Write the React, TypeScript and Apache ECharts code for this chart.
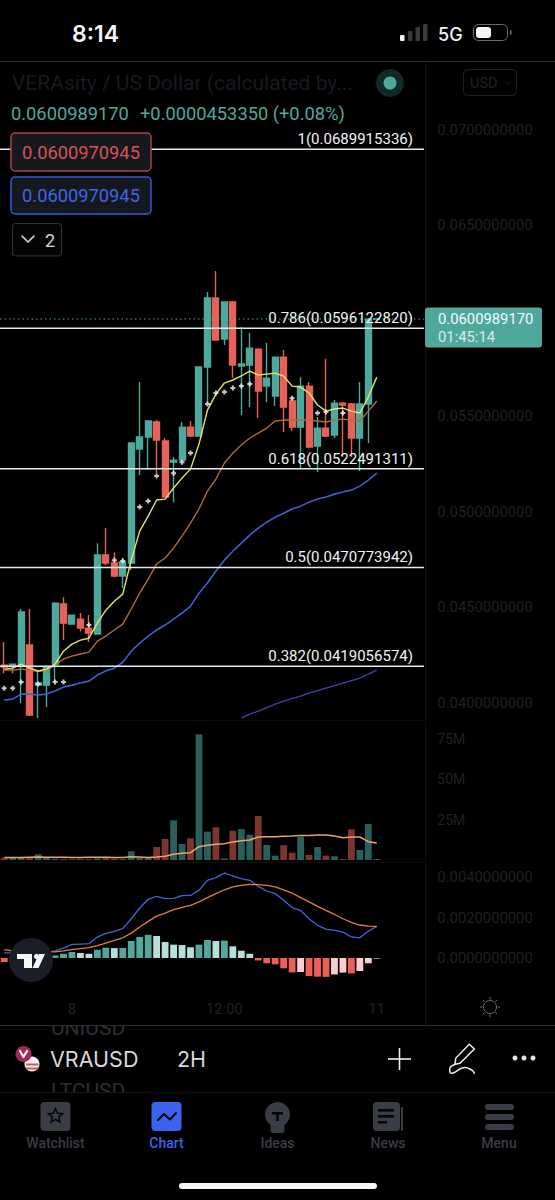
import React, { useEffect, useRef } from "react";
import * as echarts from "echarts";

const SLOTS = 50;
const tickLabels: Record<number, string> = { 8: "8", 26: "12:00", 44: "11" };
const categories = Array.from({ length: SLOTS }, (_, i) => tickLabels[i] ?? "");

// [open, close, low, high]
const candles = [
  [0.04196, 0.04186, 0.04154, 0.04317],
  [0.04191, 0.04201, 0.04154, 0.04201],
  [0.04196, 0.04474, 0.03997, 0.0449],
  [0.04301, 0.03934, 0.03929, 0.0449],
  [0.04091, 0.04102, 0.03918, 0.04159],
  [0.04091, 0.04186, 0.03976, 0.04186],
  [0.04201, 0.04521, 0.04102, 0.04526],
  [0.04516, 0.04416, 0.04327, 0.04552],
  [0.04411, 0.04458, 0.04411, 0.04458],
  [0.04437, 0.0439, 0.04374, 0.04469],
  [0.0439, 0.04364, 0.04317, 0.04458],
  [0.04359, 0.04773, 0.04359, 0.04835],
  [0.04773, 0.04731, 0.0472, 0.04914],
  [0.04731, 0.04663, 0.04657, 0.04788],
  [0.04663, 0.04736, 0.046, 0.04757],
  [0.04731, 0.0536, 0.04694, 0.0536],
  [0.05328, 0.05391, 0.05192, 0.05679],
  [0.05391, 0.05475, 0.05218, 0.05475],
  [0.0547, 0.05375, 0.05202, 0.0548],
  [0.0537, 0.05077, 0.05077, 0.05386],
  [0.0526, 0.0527, 0.0505, 0.05286],
  [0.0527, 0.05443, 0.0526, 0.0547],
  [0.05443, 0.05396, 0.05391, 0.05475],
  [0.05396, 0.05758, 0.05396, 0.05758],
  [0.05758, 0.0612, 0.05569, 0.06151],
  [0.0612, 0.05899, 0.05894, 0.06261],
  [0.05905, 0.06099, 0.05873, 0.06099],
  [0.06099, 0.05768, 0.057, 0.06104],
  [0.05763, 0.05774, 0.05506, 0.05968],
  [0.05768, 0.05857, 0.05548, 0.05936],
  [0.05852, 0.05632, 0.05491, 0.05857],
  [0.05658, 0.057, 0.05574, 0.05884],
  [0.05606, 0.0581, 0.05554, 0.0581],
  [0.0581, 0.05548, 0.05417, 0.05847],
  [0.0558, 0.05443, 0.05422, 0.05595],
  [0.05443, 0.05658, 0.05229, 0.05705],
  [0.05658, 0.05339, 0.05333, 0.05679],
  [0.05344, 0.05438, 0.05208, 0.05496],
  [0.05438, 0.05396, 0.05391, 0.058],
  [0.05402, 0.05569, 0.05386, 0.05585],
  [0.05569, 0.05559, 0.05286, 0.05574],
  [0.05564, 0.05386, 0.05286, 0.05569],
  [0.05386, 0.05564, 0.05213, 0.05679],
  [0.05564, 0.06009, 0.0536, 0.06015],
  [0.06009, 0.0601, 0.06009, 0.0601],
];

const yellowLine = [
  0.04175, 0.0418, 0.04201, 0.0418, 0.04165, 0.04175, 0.04201, 0.04269, 0.04306, 0.04327, 0.04337, 0.04416, 0.04484,
  0.04531, 0.04568, 0.04746, 0.04898, 0.04977, 0.05061, 0.05066, 0.05124, 0.05176, 0.05223, 0.05354, 0.05532, 0.05616,
  0.05674, 0.0569, 0.05711, 0.05737, 0.05716, 0.05721, 0.05726, 0.05711, 0.05658, 0.05653, 0.05622, 0.05559, 0.05527,
  0.05538, 0.05543, 0.05527, 0.05517, 0.05601, 0.05705,
];
const orangeLine = [
  0.0417, 0.0417, 0.04175, 0.0417, 0.04162, 0.0417, 0.04196, 0.04228, 0.04243, 0.04254, 0.04264, 0.04322, 0.04348,
  0.0438, 0.04411, 0.0449, 0.04573, 0.04647, 0.04726, 0.04757, 0.04809, 0.04872, 0.0494, 0.05014, 0.05108, 0.05171,
  0.05255, 0.05307, 0.05349, 0.05386, 0.05412, 0.05438, 0.05475, 0.0548, 0.0548, 0.0548, 0.0548, 0.05475, 0.0547,
  0.0548, 0.05485, 0.0548, 0.05475, 0.05527, 0.0558,
];
const blueLine = [
  0.04013, 0.04018, 0.04044, 0.04044, 0.04039, 0.04044, 0.0406, 0.04081, 0.04091, 0.04102, 0.04112, 0.04144, 0.04165,
  0.0418, 0.04211, 0.04269, 0.04311, 0.04348, 0.0438, 0.04406, 0.04437, 0.04469, 0.04505, 0.04573, 0.04626, 0.04689,
  0.04746, 0.04793, 0.04835, 0.04877, 0.04914, 0.04945, 0.04971, 0.04992, 0.05014, 0.05029, 0.0505, 0.05066, 0.05077,
  0.05092, 0.05103, 0.05113, 0.05134, 0.05165, 0.05202,
];
const n = null;
const purpleLine = [
  n, n, n, n, n, n, n, n, n, n, n, n, n, n, n, n, n, n, n, n, n, n, n, n, n, n, n, n,
  0.03918, 0.03939, 0.03955, 0.03973, 0.03992, 0.04007, 0.0402, 0.04034, 0.04049, 0.04062, 0.04076, 0.04089, 0.04102,
  0.04115, 0.04128, 0.04149, 0.0417,
];
const crossMarks = [
  [0, 0.04075], [1, 0.04075], [2, 0.04107], [4, 0.04097], [6, 0.04107], [7, 0.04107], [10, 0.04406], [13, 0.04746],
  [14, 0.04741], [16, 0.05024], [17, 0.05056], [18, 0.05187], [20, 0.05202], [21, 0.05259], [22, 0.05307],
  [24, 0.05564], [25, 0.05622], [26, 0.05627], [27, 0.05648], [28, 0.05658], [29, 0.05669], [34, 0.05595],
  [37, 0.05517], [38, 0.05522], [40, 0.05517],
];

const fibValues = [0.0689915336, 0.059612282, 0.0522491311, 0.0470773942, 0.0419056574];
const fibLabels = ["1(0.0689915336)", "0.786(0.0596122820)", "0.618(0.0522491311)", "0.5(0.0470773942)", "0.382(0.0419056574)"];
const lastPrice = 0.060098917;

const volume = [
  1.4, 1.4, 1.4, 1.9, 3.5, 1.4, 0.8, 0.6, 0.4, 0.6, 0.6, 1.0, 1.9, 0.8, 0.6, 5.4, 1.4, 1.4, 8.0, 13.0, 24.5, 9.9, 13.4,
  77.6, 17.5, 20.2, 1.0, 18.1, 19.1, 15.6, 27.2, 9.3, 2.7, 9.1, 4.5, 14.4, 3.1, 8.0, 2.7, 2.3, 0.6, 18.9, 6.2, 22.2, 0.6,
];
const volumeMA = [
  1.6, 1.6, 1.6, 1.7, 1.8, 1.7, 1.7, 1.7, 1.6, 1.6, 1.7, 1.7, 1.7, 1.6, 1.6, 2.0, 1.9, 1.6, 1.9, 2.3, 3.5, 4.1, 4.5,
  8.2, 9.1, 9.7, 10.1, 11.1, 11.9, 12.3, 14.2, 14.4, 14.4, 14.6, 14.8, 15.2, 15.2, 15.4, 15.4, 14.8, 13.8, 14.2, 14.2,
  11.3, 10.5,
];

const macdHist = [
  -0.0002, -0.00018, -0.0001, -0.00006, 0.00002, 0.00006, 0.00013, 0.00021, 0.0003, 0.00025, 0.00021, 0.00041, 0.00051,
  0.00049, 0.0005, 0.00084, 0.00104, 0.00115, 0.00109, 0.00079, 0.00066, 0.00064, 0.00053, 0.00066, 0.00089, 0.00084,
  0.00086, 0.00058, 0.00036, 0.00021, -0.00012, -0.00026, -0.00031, -0.00051, -0.00071, -0.00069, -0.00089, -0.00092,
  -0.00093, -0.00081, -0.00072, -0.00076, -0.00064, -0.00026, -0.00003,
];
const macdLine = [
  0.00025, 0.00025, 0.00025, 0.00025, 0.00026, 0.00028, 0.00035, 0.00049, 0.00067, 0.00069, 0.00071, 0.00104, 0.00122,
  0.00132, 0.00145, 0.00194, 0.00247, 0.0029, 0.00305, 0.00293, 0.00295, 0.00308, 0.00309, 0.00334, 0.00384, 0.00397,
  0.0042, 0.00405, 0.00392, 0.00384, 0.00354, 0.00331, 0.00318, 0.00285, 0.00249, 0.00235, 0.00194, 0.00161, 0.00143,
  0.00137, 0.00128, 0.00104, 0.001, 0.00133, 0.00156,
];
const signalLine = [
  0.00041, 0.00035, 0.00033, 0.00031, 0.0003, 0.0003, 0.0003, 0.00035, 0.00041, 0.00046, 0.00051, 0.00061, 0.00074,
  0.00087, 0.001, 0.00123, 0.00153, 0.00181, 0.00207, 0.00222, 0.00239, 0.0025, 0.0026, 0.00277, 0.00298, 0.00318,
  0.00337, 0.00351, 0.00359, 0.00364, 0.00362, 0.00359, 0.00351, 0.00337, 0.00321, 0.00298, 0.00277, 0.00255, 0.00235,
  0.00216, 0.00194, 0.00176, 0.00163, 0.00158, 0.00156,
];

const GREEN = "#4fa89c";
const RED = "#e5625a";
const AXIS_TEXT = "#1e2126";
const FONT = "Roboto";
const TAB = "#3a3c46";
const ACCENT = "#3a63f0";

const txt = (x: number, y: number, text: string, fill: string, fontSize: number, extra: any = {}) => ({
  type: "text", x, y, silent: true,
  style: { text, fill, fontSize, fontFamily: FONT, textAlign: "left", textVerticalAlign: "middle", ...extra },
});
const rect = (x: number, y: number, width: number, height: number, fill: string, r = 0, extra: any = {}) => ({
  type: "rect", silent: true, shape: { x, y, width, height, r }, style: { fill, ...extra },
});
const seg = (x1: number, y1: number, x2: number, y2: number, stroke: string, lineWidth = 1) => ({
  type: "line", silent: true, shape: { x1, y1, x2, y2 }, style: { stroke, lineWidth },
});
const poly = (points: number[][], stroke: string, lineWidth = 1.5, smooth = 0) => ({
  type: "polyline", silent: true, shape: { points, smooth }, style: { stroke, lineWidth, fill: "none", lineCap: "round", lineJoin: "round" },
});
const circle = (cx: number, cy: number, r: number, style: any) => ({
  type: "circle", silent: true, shape: { cx, cy, r }, style,
});

function starPoints(cx: number, cy: number, R: number, r: number) {
  const pts: number[][] = [];
  for (let i = 0; i < 10; i++) {
    const a = -Math.PI / 2 + (i * Math.PI) / 5;
    const d = i % 2 === 0 ? R : r;
    pts.push([cx + d * Math.cos(a), cy + d * Math.sin(a)]);
  }
  return pts;
}

function sunRays(cx: number, cy: number) {
  const out: any[] = [];
  for (let i = 0; i < 8; i++) {
    const a = (i * Math.PI) / 4;
    out.push(seg(cx + 7.5 * Math.cos(a), cy + 7.5 * Math.sin(a), cx + 10 * Math.cos(a), cy + 10 * Math.sin(a), "#6a6c72", 1));
  }
  return out;
}

const overlay: any[] = [
  // frame
  seg(0, 61.5, 555, 61.5, "#2a2e39"),
  seg(425.5, 62, 425.5, 1025, "#0e0f12"),
  seg(0, 720.5, 425, 720.5, "#0b0c0e"),
  seg(0, 862.5, 425, 862.5, "#0b0c0e"),

  // status bar
  txt(72, 34, "8:14", "#f2f2f2", 23, { fontFamily: "Inter", fontWeight: 600 }),
  rect(400, 35, 4.5, 6, "#f2f2f2", 1),
  rect(408, 31, 4.5, 10, "#3a3a3c", 1),
  rect(415.5, 27, 4.5, 14, "#3a3a3c", 1),
  rect(423, 24, 4.5, 17, "#3a3a3c", 1),
  txt(438, 34, "5G", "#f2f2f2", 18, { fontFamily: "Inter", fontWeight: 500 }),
  rect(473.5, 24.5, 34, 16, "none", 5, { stroke: "#6c6c6e", lineWidth: 1 }),
  rect(476, 27, 15, 11, "#f5f5f5", 3),
  rect(510, 30, 1.5, 5, "#6c6c6e", 1),

  // header
  txt(12, 83, "VERAsity / US Dollar (calculated by...", "#171a20", 21),
  circle(390, 83, 14, { fill: "#0f2a28" }),
  circle(390, 83, 6.5, { fill: GREEN }),
  rect(463.5, 69.5, 53, 26, "none", 4, { stroke: "#1e2126", lineWidth: 1 }),
  txt(470, 83, "USD", "#1e2126", 14.5),
  poly([[505, 81.5], [508, 84.5], [511, 81.5]], "#1e2126", 1),
  txt(11, 113, "0.0600989170", GREEN, 18.3),
  txt(140, 113, "+0.0000453350 (+0.08%)", GREEN, 18.3),

  // indicator value boxes
  rect(11, 133, 140, 38, "#16181f", 4, { stroke: "#b3423f", lineWidth: 1.5 }),
  txt(81, 152, "0.0600970945", "#d9534f", 18.3, { textAlign: "center" }),
  rect(11, 177, 140, 37, "#16181f", 4, { stroke: "#3659d8", lineWidth: 1.5 }),
  txt(81, 195.5, "0.0600970945", "#3f66e8", 18.3, { textAlign: "center" }),
  rect(12.5, 223.5, 49, 32.5, "#050506", 3, { stroke: "#333539", lineWidth: 1 }),
  poly([[22, 236], [28, 242], [34, 236]], "#d8d8d8", 1.6),
  txt(45, 240, "2", "#d8d8d8", 18),

  // last price tag
  rect(425, 307.5, 117, 40, "#4fa89c", 3),
  txt(438, 319, "0.0600989170", "#f2faf9", 14.8),
  txt(438, 337, "01:45:14", "#d5ede9", 14.8),

  // TradingView logo
  circle(31, 960, 22, { fill: "#1c1e27" }),
  rect(17, 954, 15, 5, "#f5f5f5"),
  rect(24, 954, 8, 14, "#f5f5f5"),
  circle(36.5, 956.5, 2.6, { fill: "#f5f5f5" }),
  { type: "polygon", silent: true, shape: { points: [[39, 954], [45, 954], [38.5, 968], [32.5, 968]] }, style: { fill: "#f5f5f5" } },

  // sun
  circle(490, 1007, 6.5, { fill: "none", stroke: "#6a6c72", lineWidth: 1 }),
  ...sunRays(490, 1007),

  // toolbar with clipped neighbours
  txt(51, 1027.5, "UNIUSD", "#2e2f33", 21),
  rect(40, 1017, 110, 8, "#000"),
  seg(0, 1025.5, 555, 1025.5, "#2a2e39"),
  txt(51, 1091, "LTCUSD", "#2e2f33", 21),
  rect(40, 1092, 110, 16, "#000"),
  seg(0, 1092.5, 555, 1092.5, "#131318"),
  circle(32, 1064, 7.5, { fill: "#f0f0f0" }),
  rect(26, 1063.5, 12.5, 2, "#d8584f"),
  rect(26, 1067.5, 12, 2, "#d8584f"),
  circle(23.5, 1054, 8, { fill: "#a02a55" }),
  poly([[20, 1051], [23.5, 1057], [27, 1051]], "#f5f5f5", 2.2),
  txt(50, 1059, "VRAUSD", "#d8d8d8", 21.5, { fontFamily: "Inter", fontWeight: 400 }),
  txt(177, 1059, "2H", "#d8d8d8", 21.5, { fontFamily: "Inter", fontWeight: 400 }),
  seg(388, 1059, 411, 1059, "#f0f0f0", 1.6),
  seg(399.5, 1048, 399.5, 1070, "#f0f0f0", 1.6),
  { type: "polygon", silent: true, shape: { points: [[469.3, 1044.3], [474.3, 1049], [460, 1063.3], [455, 1064.3], [455.7, 1058.3]] }, style: { fill: "none", stroke: "#ececec", lineWidth: 1.5 } },
  poly([[455, 1064.5], [450, 1068], [451.7, 1073.3], [463.3, 1067.7], [471.7, 1070], [474.3, 1073.3]], "#ececec", 1.5, 0.5),
  circle(515, 1058, 2.5, { fill: "#e6e6e6" }),
  circle(524, 1058, 2.5, { fill: "#e6e6e6" }),
  circle(533, 1058, 2.5, { fill: "#e6e6e6" }),

  // tab bar
  rect(40.5, 1102, 30, 29, TAB, 4),
  { type: "polygon", silent: true, shape: { points: starPoints(55.5, 1116, 7.5, 3.4) }, style: { fill: "none", stroke: "#050505", lineWidth: 1.5 } },
  rect(151.5, 1102, 30, 29, ACCENT, 4),
  poly([[158, 1120], [164, 1114], [170, 1119.5], [176, 1113]], "#050505", 2),
  circle(277.5, 1114.5, 12.5, { fill: TAB }),
  rect(270.5, 1122, 14, 11, TAB, 2),
  rect(272, 1112, 11, 2.5, "#050505"),
  rect(276.2, 1112, 2.6, 9, "#050505"),
  rect(373, 1102, 27, 29, TAB, 4),
  rect(401, 1107, 2, 24, TAB, 1),
  rect(378, 1109, 16, 2.6, "#050505"),
  rect(378, 1115, 16, 2.6, "#050505"),
  rect(378, 1121, 9, 2.6, "#050505"),
  rect(485, 1104, 29, 6, TAB, 3),
  rect(485, 1114, 29, 6, TAB, 3),
  rect(485, 1124, 29, 6, TAB, 3),
  txt(55.5, 1143, "Watchlist", TAB, 14, { textAlign: "center", fontWeight: 500 }),
  txt(166.5, 1143, "Chart", ACCENT, 14, { textAlign: "center", fontWeight: 500 }),
  txt(277.5, 1143, "Ideas", TAB, 14, { textAlign: "center", fontWeight: 500 }),
  txt(388, 1143, "News", TAB, 14, { textAlign: "center", fontWeight: 500 }),
  txt(499, 1143, "Menu", TAB, 14, { textAlign: "center", fontWeight: 500 }),
  rect(179, 1183, 198, 6, "#f5f5f5", 3),
];

const isMultiple = (v: number, step: number) => Math.abs(v / step - Math.round(v / step)) < 1e-6;

export default function App() {
  const ref = useRef<HTMLDivElement>(null);
  useEffect(() => {
    document.body.style.margin = "0";
    document.body.style.background = "#000";
    const chart = echarts.init(ref.current!, undefined, { renderer: "svg" });
    const axisLabel = { color: AXIS_TEXT, fontSize: 14.8, fontFamily: FONT, margin: 14 };
    const xBase = {
      type: "category", data: categories, boundaryGap: true,
      axisLine: { show: false }, axisTick: { show: false }, splitLine: { show: false },
    };
    const line = (name: string, data: any[], color: string, xAxisIndex = 0, width = 1) => ({
      name, type: "line", data, xAxisIndex, yAxisIndex: xAxisIndex, symbol: "none", silent: true,
      lineStyle: { color, width }, z: 3,
    });
    chart.setOption({
      animation: false,
      backgroundColor: "#000",
      grid: [
        { left: -0.94, width: 424.3, top: 63.2, height: 658.4 },
        { left: -0.94, width: 424.3, top: 722.3, height: 137.7 },
        { left: -0.94, width: 424.3, top: 866.9, height: 121.5 },
      ],
      xAxis: [
        { ...xBase, gridIndex: 0, axisLabel: { show: false } },
        { ...xBase, gridIndex: 1, axisLabel: { show: false } },
        { ...xBase, gridIndex: 2, axisLabel: { show: true, interval: 0, color: AXIS_TEXT, fontSize: 14.8, fontFamily: FONT, margin: 13 } },
      ],
      yAxis: [
        {
          type: "value", gridIndex: 0, position: "right", min: 0.039, max: 0.0735, interval: 0.001,
          axisLine: { show: false }, axisTick: { show: false }, splitLine: { show: false },
          axisLabel: {
            ...axisLabel, showMinLabel: false, showMaxLabel: false,
            // the 0.06 label sits under the last-price tag
            formatter: (v: number) => (isMultiple(v, 0.005) && Math.abs(v - 0.06) > 1e-6 ? v.toFixed(10) : ""),
          },
        },
        {
          type: "value", gridIndex: 1, position: "right", min: 0, max: 85, interval: 25,
          axisLine: { show: false }, axisTick: { show: false }, splitLine: { show: false },
          axisLabel: { ...axisLabel, fontSize: 14, formatter: (v: number) => (v > 0 && v <= 75 ? `${v}M` : "") },
        },
        {
          type: "value", gridIndex: 2, position: "right", min: -0.0015, max: 0.0045, interval: 0.0005,
          axisLine: { show: false }, axisTick: { show: false }, splitLine: { show: false },
          axisLabel: { ...axisLabel, formatter: (v: number) => (v > -1e-9 && isMultiple(v, 0.002) ? Math.abs(v).toFixed(10) : "") },
        },
      ],
      series: [
        {
          type: "candlestick", xAxisIndex: 0, yAxisIndex: 0, data: candles, barWidth: 6.5, silent: true, z: 2,
          itemStyle: { color: GREEN, color0: RED, borderColor: GREEN, borderColor0: RED, borderWidth: 1.4 },
        },
        line("purple", purpleLine, "#4a3ea8", 0, 1.3),
        line("blue", blueLine, "#3f5fd0", 0, 1.6),
        line("orange", orangeLine, "#b06c38", 0, 1.4),
        line("yellow", yellowLine, "#e6e26a", 0, 1.4),
        {
          type: "scatter", xAxisIndex: 0, yAxisIndex: 0, data: crossMarks, silent: true, z: 4,
          symbol: "path://M1.5 0h2v1.5H5v2H3.5V5h-2V3.5H0v-2h1.5z", symbolSize: 5, itemStyle: { color: "#f5f5f5" },
        },
        {
          // last-price dotted line
          type: "custom", coordinateSystem: "cartesian2d", xAxisIndex: 0, yAxisIndex: 0, silent: true, z: 5,
          encode: { x: 0, y: 1 },
          data: [[0, lastPrice]],
          renderItem: (_: any, api: any) => {
            const y = api.coord([0, api.value(1)])[1];
            return {
              type: "line", shape: { x1: 0, y1: y, x2: 424, y2: y },
              style: { stroke: GREEN, lineWidth: 1, lineDash: [1.5, 3] },
            };
          },
        },
        {
          // Fibonacci levels
          type: "custom", coordinateSystem: "cartesian2d", xAxisIndex: 0, yAxisIndex: 0, silent: true, z: 6,
          encode: { x: 0, y: 1 },
          data: fibValues.map((v) => [0, v]),
          renderItem: (params: any, api: any) => {
            const y = api.coord([0, api.value(1)])[1];
            return {
              type: "group",
              children: [
                { type: "line", shape: { x1: 0, y1: y, x2: 424, y2: y }, style: { stroke: "#e8e8e8", lineWidth: 1.5 } },
                {
                  type: "text", x: 413, y: y - 10,
                  style: {
                    text: fibLabels[params.dataIndex], fill: "#f2f2f2", fontSize: 15, fontFamily: FONT,
                    textAlign: "right", textVerticalAlign: "middle",
                  },
                },
              ],
            };
          },
        },
        {
          type: "bar", xAxisIndex: 1, yAxisIndex: 1, silent: true, barWidth: 6.8,
          data: volume.map((v, i) => ({
            value: v,
            itemStyle: { color: candles[i][1] >= candles[i][0] ? "#2a5f5b" : "#7c352f" },
          })),
        },
        line("volume MA", volumeMA, "#eda36c", 1, 1.5),
        {
          type: "bar", xAxisIndex: 2, yAxisIndex: 2, silent: true, barWidth: 6.8,
          data: macdHist.map((v, i) => {
            const prev = i > 0 ? macdHist[i - 1] : v;
            const color = v >= 0 ? (v >= prev ? "#52a89c" : "#b7e0da") : v <= prev ? "#ef5f59" : "#fbcdd0";
            return { value: v, itemStyle: { color } };
          }),
        },
        line("macd", macdLine, "#3f66d8", 2, 1.3),
        line("signal", signalLine, "#e0803a", 2, 1.3),
      ],
      graphic: { elements: overlay.map((e) => ({ ...e, z: 100 })) },
    });
    return () => chart.dispose();
  }, []);
  return <div ref={ref} style={{ position: "fixed", left: 0, top: 0, width: 555, height: 1200 }} />;
}
